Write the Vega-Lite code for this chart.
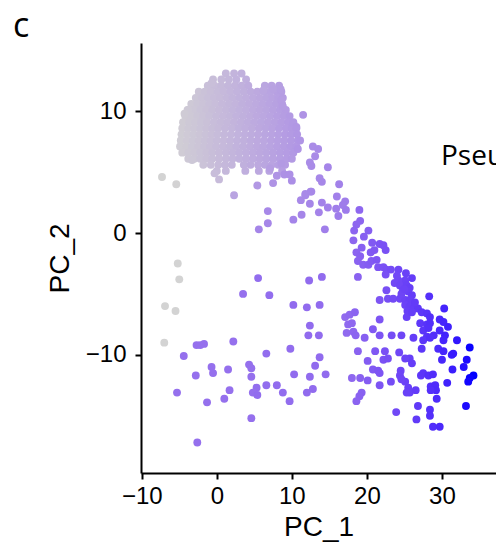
{
"$schema": "https://vega.github.io/schema/vega-lite/v6.json",
"width": 355,
"height": 430,
"autosize": "none",
"padding": {"left": 141, "top": 43, "right": 0, "bottom": 70},
"background": "white",
"config": {"view": {"stroke": null}},
"title": {"text": "c", "anchor": "start", "frame": "group", "font": "Open Sans", "fontSize": 34, "fontWeight": "normal", "color": "black", "baseline": "alphabetic", "dx": -128, "dy": 36, "offset": 8},
"data": {"values": [
{"PC_1":1.2,"PC_2":13.1,"Pseudotime":2.8},{"PC_1":2.3,"PC_2":13.1,"Pseudotime":3.3},{"PC_1":3.3,"PC_2":13.1,"Pseudotime":3.6},
{"PC_1":-0.5,"PC_2":12.6,"Pseudotime":2.2},{"PC_1":0.6,"PC_2":12.6,"Pseudotime":2.6},{"PC_1":1.6,"PC_2":12.6,"Pseudotime":3.0},{"PC_1":2.6,"PC_2":12.6,"Pseudotime":3.4},{"PC_1":3.9,"PC_2":12.6,"Pseudotime":3.8},
{"PC_1":-1.2,"PC_2":12.1,"Pseudotime":2.0},{"PC_1":-0.3,"PC_2":12.1,"Pseudotime":2.3},{"PC_1":0.6,"PC_2":12.1,"Pseudotime":2.6},{"PC_1":1.5,"PC_2":12.1,"Pseudotime":3.0},{"PC_1":2.4,"PC_2":12.1,"Pseudotime":3.3},{"PC_1":3.3,"PC_2":12.1,"Pseudotime":3.6},{"PC_1":4.2,"PC_2":12.1,"Pseudotime":4.0},{"PC_1":6.4,"PC_2":12.1,"Pseudotime":4.8},{"PC_1":7.3,"PC_2":12.1,"Pseudotime":5.1},{"PC_1":8.3,"PC_2":12.1,"Pseudotime":5.5},
{"PC_1":-2.4,"PC_2":11.6,"Pseudotime":1.5},{"PC_1":-1.6,"PC_2":11.6,"Pseudotime":1.8},{"PC_1":-0.8,"PC_2":11.6,"Pseudotime":2.1},{"PC_1":0.1,"PC_2":11.6,"Pseudotime":2.4},{"PC_1":0.9,"PC_2":11.6,"Pseudotime":2.7},{"PC_1":1.8,"PC_2":11.6,"Pseudotime":3.1},{"PC_1":2.7,"PC_2":11.6,"Pseudotime":3.4},{"PC_1":3.6,"PC_2":11.6,"Pseudotime":3.7},{"PC_1":4.5,"PC_2":11.6,"Pseudotime":4.1},{"PC_1":5.4,"PC_2":11.6,"Pseudotime":4.4},{"PC_1":6.3,"PC_2":11.6,"Pseudotime":4.7},{"PC_1":7.1,"PC_2":11.6,"Pseudotime":5.0},{"PC_1":8.0,"PC_2":11.6,"Pseudotime":5.4},{"PC_1":8.6,"PC_2":11.6,"Pseudotime":5.6},
{"PC_1":-2.8,"PC_2":11.1,"Pseudotime":1.4},{"PC_1":-2.0,"PC_2":11.1,"Pseudotime":1.7},{"PC_1":-1.2,"PC_2":11.1,"Pseudotime":2.0},{"PC_1":-0.4,"PC_2":11.1,"Pseudotime":2.3},{"PC_1":0.4,"PC_2":11.1,"Pseudotime":2.5},{"PC_1":1.3,"PC_2":11.1,"Pseudotime":2.9},{"PC_1":2.1,"PC_2":11.1,"Pseudotime":3.2},{"PC_1":3.0,"PC_2":11.1,"Pseudotime":3.5},{"PC_1":3.9,"PC_2":11.1,"Pseudotime":3.8},{"PC_1":4.8,"PC_2":11.1,"Pseudotime":4.2},{"PC_1":5.7,"PC_2":11.1,"Pseudotime":4.5},{"PC_1":6.6,"PC_2":11.1,"Pseudotime":4.8},{"PC_1":7.4,"PC_2":11.1,"Pseudotime":5.1},{"PC_1":8.2,"PC_2":11.1,"Pseudotime":5.4},{"PC_1":8.8,"PC_2":11.1,"Pseudotime":5.7},
{"PC_1":-3.4,"PC_2":10.6,"Pseudotime":1.1},{"PC_1":-2.6,"PC_2":10.6,"Pseudotime":1.4},{"PC_1":-1.8,"PC_2":10.6,"Pseudotime":1.7},{"PC_1":-1.0,"PC_2":10.6,"Pseudotime":2.0},{"PC_1":-0.2,"PC_2":10.6,"Pseudotime":2.3},{"PC_1":0.7,"PC_2":10.6,"Pseudotime":2.7},{"PC_1":1.6,"PC_2":10.6,"Pseudotime":3.0},{"PC_1":2.5,"PC_2":10.6,"Pseudotime":3.3},{"PC_1":3.4,"PC_2":10.6,"Pseudotime":3.7},{"PC_1":4.3,"PC_2":10.6,"Pseudotime":4.0},{"PC_1":5.2,"PC_2":10.6,"Pseudotime":4.3},{"PC_1":6.1,"PC_2":10.6,"Pseudotime":4.7},{"PC_1":7.0,"PC_2":10.6,"Pseudotime":5.0},{"PC_1":7.9,"PC_2":10.6,"Pseudotime":5.3},{"PC_1":8.7,"PC_2":10.6,"Pseudotime":5.6},
{"PC_1":-3.9,"PC_2":10.1,"Pseudotime":0.9},{"PC_1":-3.0,"PC_2":10.1,"Pseudotime":1.3},{"PC_1":-2.2,"PC_2":10.1,"Pseudotime":1.6},{"PC_1":-1.4,"PC_2":10.1,"Pseudotime":1.9},{"PC_1":-0.6,"PC_2":10.1,"Pseudotime":2.2},{"PC_1":0.3,"PC_2":10.1,"Pseudotime":2.5},{"PC_1":1.2,"PC_2":10.1,"Pseudotime":2.8},{"PC_1":2.1,"PC_2":10.1,"Pseudotime":3.2},{"PC_1":3.0,"PC_2":10.1,"Pseudotime":3.5},{"PC_1":3.9,"PC_2":10.1,"Pseudotime":3.8},{"PC_1":4.8,"PC_2":10.1,"Pseudotime":4.2},{"PC_1":5.7,"PC_2":10.1,"Pseudotime":4.5},{"PC_1":6.6,"PC_2":10.1,"Pseudotime":4.8},{"PC_1":7.5,"PC_2":10.1,"Pseudotime":5.2},{"PC_1":8.4,"PC_2":10.1,"Pseudotime":5.5},{"PC_1":9.2,"PC_2":10.1,"Pseudotime":5.8},
{"PC_1":-4.2,"PC_2":9.6,"Pseudotime":0.8},{"PC_1":-3.4,"PC_2":9.6,"Pseudotime":1.1},{"PC_1":-2.6,"PC_2":9.6,"Pseudotime":1.4},{"PC_1":-1.8,"PC_2":9.6,"Pseudotime":1.7},{"PC_1":-1.0,"PC_2":9.6,"Pseudotime":2.0},{"PC_1":-0.1,"PC_2":9.6,"Pseudotime":2.4},{"PC_1":0.8,"PC_2":9.6,"Pseudotime":2.7},{"PC_1":1.7,"PC_2":9.6,"Pseudotime":3.0},{"PC_1":2.6,"PC_2":9.6,"Pseudotime":3.4},{"PC_1":3.5,"PC_2":9.6,"Pseudotime":3.7},{"PC_1":4.4,"PC_2":9.6,"Pseudotime":4.0},{"PC_1":5.3,"PC_2":9.6,"Pseudotime":4.4},{"PC_1":6.2,"PC_2":9.6,"Pseudotime":4.7},{"PC_1":7.1,"PC_2":9.6,"Pseudotime":5.0},{"PC_1":8.0,"PC_2":9.6,"Pseudotime":5.4},{"PC_1":8.9,"PC_2":9.6,"Pseudotime":5.7},{"PC_1":9.7,"PC_2":9.6,"Pseudotime":6.0},
{"PC_1":-4.5,"PC_2":9.1,"Pseudotime":0.7},{"PC_1":-3.7,"PC_2":9.1,"Pseudotime":1.0},{"PC_1":-2.9,"PC_2":9.1,"Pseudotime":1.3},{"PC_1":-2.1,"PC_2":9.1,"Pseudotime":1.6},{"PC_1":-1.3,"PC_2":9.1,"Pseudotime":1.9},{"PC_1":-0.4,"PC_2":9.1,"Pseudotime":2.3},{"PC_1":0.5,"PC_2":9.1,"Pseudotime":2.6},{"PC_1":1.4,"PC_2":9.1,"Pseudotime":2.9},{"PC_1":2.3,"PC_2":9.1,"Pseudotime":3.3},{"PC_1":3.2,"PC_2":9.1,"Pseudotime":3.6},{"PC_1":4.1,"PC_2":9.1,"Pseudotime":3.9},{"PC_1":5.0,"PC_2":9.1,"Pseudotime":4.3},{"PC_1":5.9,"PC_2":9.1,"Pseudotime":4.6},{"PC_1":6.8,"PC_2":9.1,"Pseudotime":4.9},{"PC_1":7.7,"PC_2":9.1,"Pseudotime":5.2},{"PC_1":8.6,"PC_2":9.1,"Pseudotime":5.6},{"PC_1":9.5,"PC_2":9.1,"Pseudotime":5.9},{"PC_1":10.2,"PC_2":9.1,"Pseudotime":6.2},
{"PC_1":-4.6,"PC_2":8.6,"Pseudotime":0.7},{"PC_1":-3.8,"PC_2":8.6,"Pseudotime":1.0},{"PC_1":-3.0,"PC_2":8.6,"Pseudotime":1.3},{"PC_1":-2.2,"PC_2":8.6,"Pseudotime":1.6},{"PC_1":-1.4,"PC_2":8.6,"Pseudotime":1.9},{"PC_1":-0.6,"PC_2":8.6,"Pseudotime":2.2},{"PC_1":0.2,"PC_2":8.6,"Pseudotime":2.5},{"PC_1":1.1,"PC_2":8.6,"Pseudotime":2.8},{"PC_1":2.0,"PC_2":8.6,"Pseudotime":3.1},{"PC_1":2.9,"PC_2":8.6,"Pseudotime":3.5},{"PC_1":3.8,"PC_2":8.6,"Pseudotime":3.8},{"PC_1":4.7,"PC_2":8.6,"Pseudotime":4.1},{"PC_1":5.6,"PC_2":8.6,"Pseudotime":4.5},{"PC_1":6.5,"PC_2":8.6,"Pseudotime":4.8},{"PC_1":7.4,"PC_2":8.6,"Pseudotime":5.1},{"PC_1":8.3,"PC_2":8.6,"Pseudotime":5.5},{"PC_1":9.2,"PC_2":8.6,"Pseudotime":5.8},{"PC_1":10.0,"PC_2":8.6,"Pseudotime":6.1},{"PC_1":10.6,"PC_2":8.6,"Pseudotime":6.3},
{"PC_1":-4.7,"PC_2":8.1,"Pseudotime":0.6},{"PC_1":-3.9,"PC_2":8.1,"Pseudotime":0.9},{"PC_1":-3.1,"PC_2":8.1,"Pseudotime":1.2},{"PC_1":-2.3,"PC_2":8.1,"Pseudotime":1.5},{"PC_1":-1.5,"PC_2":8.1,"Pseudotime":1.8},{"PC_1":-0.7,"PC_2":8.1,"Pseudotime":2.1},{"PC_1":0.1,"PC_2":8.1,"Pseudotime":2.4},{"PC_1":1.0,"PC_2":8.1,"Pseudotime":2.8},{"PC_1":1.9,"PC_2":8.1,"Pseudotime":3.1},{"PC_1":2.8,"PC_2":8.1,"Pseudotime":3.4},{"PC_1":3.7,"PC_2":8.1,"Pseudotime":3.8},{"PC_1":4.6,"PC_2":8.1,"Pseudotime":4.1},{"PC_1":5.5,"PC_2":8.1,"Pseudotime":4.4},{"PC_1":6.4,"PC_2":8.1,"Pseudotime":4.8},{"PC_1":7.3,"PC_2":8.1,"Pseudotime":5.1},{"PC_1":8.2,"PC_2":8.1,"Pseudotime":5.4},{"PC_1":9.1,"PC_2":8.1,"Pseudotime":5.8},{"PC_1":9.9,"PC_2":8.1,"Pseudotime":6.1},{"PC_1":10.7,"PC_2":8.1,"Pseudotime":6.4},
{"PC_1":-4.8,"PC_2":7.6,"Pseudotime":0.6},{"PC_1":-4.0,"PC_2":7.6,"Pseudotime":0.9},{"PC_1":-3.2,"PC_2":7.6,"Pseudotime":1.2},{"PC_1":-2.4,"PC_2":7.6,"Pseudotime":1.5},{"PC_1":-1.6,"PC_2":7.6,"Pseudotime":1.8},{"PC_1":-0.8,"PC_2":7.6,"Pseudotime":2.1},{"PC_1":0.0,"PC_2":7.6,"Pseudotime":2.4},{"PC_1":0.9,"PC_2":7.6,"Pseudotime":2.7},{"PC_1":1.8,"PC_2":7.6,"Pseudotime":3.1},{"PC_1":2.7,"PC_2":7.6,"Pseudotime":3.4},{"PC_1":3.6,"PC_2":7.6,"Pseudotime":3.7},{"PC_1":4.5,"PC_2":7.6,"Pseudotime":4.1},{"PC_1":5.4,"PC_2":7.6,"Pseudotime":4.4},{"PC_1":6.3,"PC_2":7.6,"Pseudotime":4.7},{"PC_1":7.2,"PC_2":7.6,"Pseudotime":5.1},{"PC_1":8.1,"PC_2":7.6,"Pseudotime":5.4},{"PC_1":9.0,"PC_2":7.6,"Pseudotime":5.7},{"PC_1":9.9,"PC_2":7.6,"Pseudotime":6.1},{"PC_1":10.8,"PC_2":7.6,"Pseudotime":6.4},
{"PC_1":-4.9,"PC_2":7.1,"Pseudotime":0.6},{"PC_1":-4.1,"PC_2":7.1,"Pseudotime":0.8},{"PC_1":-3.3,"PC_2":7.1,"Pseudotime":1.2},{"PC_1":-2.5,"PC_2":7.1,"Pseudotime":1.5},{"PC_1":-1.7,"PC_2":7.1,"Pseudotime":1.8},{"PC_1":-0.9,"PC_2":7.1,"Pseudotime":2.1},{"PC_1":-0.1,"PC_2":7.1,"Pseudotime":2.4},{"PC_1":0.8,"PC_2":7.1,"Pseudotime":2.7},{"PC_1":1.7,"PC_2":7.1,"Pseudotime":3.0},{"PC_1":2.6,"PC_2":7.1,"Pseudotime":3.4},{"PC_1":3.5,"PC_2":7.1,"Pseudotime":3.7},{"PC_1":4.4,"PC_2":7.1,"Pseudotime":4.0},{"PC_1":5.3,"PC_2":7.1,"Pseudotime":4.4},{"PC_1":6.2,"PC_2":7.1,"Pseudotime":4.7},{"PC_1":7.1,"PC_2":7.1,"Pseudotime":5.0},{"PC_1":8.0,"PC_2":7.1,"Pseudotime":5.4},{"PC_1":8.9,"PC_2":7.1,"Pseudotime":5.7},{"PC_1":9.8,"PC_2":7.1,"Pseudotime":6.0},{"PC_1":10.6,"PC_2":7.1,"Pseudotime":6.3},
{"PC_1":-4.6,"PC_2":6.6,"Pseudotime":0.7},{"PC_1":-3.8,"PC_2":6.6,"Pseudotime":1.0},{"PC_1":-3.0,"PC_2":6.6,"Pseudotime":1.3},{"PC_1":-2.2,"PC_2":6.6,"Pseudotime":1.6},{"PC_1":-1.4,"PC_2":6.6,"Pseudotime":1.9},{"PC_1":-0.6,"PC_2":6.6,"Pseudotime":2.2},{"PC_1":0.3,"PC_2":6.6,"Pseudotime":2.5},{"PC_1":1.2,"PC_2":6.6,"Pseudotime":2.8},{"PC_1":2.1,"PC_2":6.6,"Pseudotime":3.2},{"PC_1":3.0,"PC_2":6.6,"Pseudotime":3.5},{"PC_1":3.9,"PC_2":6.6,"Pseudotime":3.8},{"PC_1":4.8,"PC_2":6.6,"Pseudotime":4.2},{"PC_1":5.7,"PC_2":6.6,"Pseudotime":4.5},{"PC_1":6.6,"PC_2":6.6,"Pseudotime":4.8},{"PC_1":7.5,"PC_2":6.6,"Pseudotime":5.2},{"PC_1":8.4,"PC_2":6.6,"Pseudotime":5.5},{"PC_1":9.3,"PC_2":6.6,"Pseudotime":5.8},{"PC_1":10.2,"PC_2":6.6,"Pseudotime":6.2},
{"PC_1":-3.8,"PC_2":6.1,"Pseudotime":1.0},{"PC_1":-3.0,"PC_2":6.1,"Pseudotime":1.3},{"PC_1":-2.2,"PC_2":6.1,"Pseudotime":1.6},{"PC_1":-1.4,"PC_2":6.1,"Pseudotime":1.9},{"PC_1":-0.6,"PC_2":6.1,"Pseudotime":2.2},{"PC_1":0.3,"PC_2":6.1,"Pseudotime":2.5},{"PC_1":1.2,"PC_2":6.1,"Pseudotime":2.8},{"PC_1":2.1,"PC_2":6.1,"Pseudotime":3.2},{"PC_1":3.0,"PC_2":6.1,"Pseudotime":3.5},{"PC_1":3.9,"PC_2":6.1,"Pseudotime":3.8},{"PC_1":4.8,"PC_2":6.1,"Pseudotime":4.2},{"PC_1":5.7,"PC_2":6.1,"Pseudotime":4.5},{"PC_1":6.6,"PC_2":6.1,"Pseudotime":4.8},{"PC_1":7.5,"PC_2":6.1,"Pseudotime":5.2},{"PC_1":8.4,"PC_2":6.1,"Pseudotime":5.5},{"PC_1":9.3,"PC_2":6.1,"Pseudotime":5.8},{"PC_1":10.0,"PC_2":6.1,"Pseudotime":6.1},
{"PC_1":-1.8,"PC_2":5.6,"Pseudotime":1.7},{"PC_1":-0.8,"PC_2":5.6,"Pseudotime":2.1},{"PC_1":0.2,"PC_2":5.6,"Pseudotime":2.5},{"PC_1":1.1,"PC_2":5.6,"Pseudotime":2.8},{"PC_1":2.0,"PC_2":5.6,"Pseudotime":3.1},{"PC_1":3.6,"PC_2":5.6,"Pseudotime":3.7},{"PC_1":4.5,"PC_2":5.6,"Pseudotime":4.1},{"PC_1":5.5,"PC_2":5.6,"Pseudotime":4.4},{"PC_1":6.4,"PC_2":5.6,"Pseudotime":4.8},{"PC_1":7.3,"PC_2":5.6,"Pseudotime":5.1},{"PC_1":8.2,"PC_2":5.6,"Pseudotime":5.4},{"PC_1":9.1,"PC_2":5.6,"Pseudotime":5.8},
{"PC_1":0.0,"PC_2":5.1,"Pseudotime":2.4},{"PC_1":1.2,"PC_2":5.1,"Pseudotime":2.8},{"PC_1":3.8,"PC_2":5.1,"Pseudotime":3.8},{"PC_1":5.6,"PC_2":5.1,"Pseudotime":4.5},{"PC_1":7.0,"PC_2":5.1,"Pseudotime":5.0},{"PC_1":8.7,"PC_2":5.1,"Pseudotime":5.6},
{"PC_1":-0.7,"PC_2":12.3,"Pseudotime":2.1},{"PC_1":-3.8,"PC_2":10.1,"Pseudotime":1.0},{"PC_1":-4.3,"PC_2":9.8,"Pseudotime":0.8},{"PC_1":-3.3,"PC_2":6.0,"Pseudotime":1.2},{"PC_1":6.2,"PC_2":11.7,"Pseudotime":4.7},{"PC_1":7.5,"PC_2":11.8,"Pseudotime":5.2},{"PC_1":8.5,"PC_2":11.8,"Pseudotime":5.5},{"PC_1":8.6,"PC_2":10.9,"Pseudotime":5.6},{"PC_1":8.8,"PC_2":10.4,"Pseudotime":5.7},{"PC_1":10.2,"PC_2":9.0,"Pseudotime":6.2},
{"PC_1":-7.3,"PC_2":4.6,"Pseudotime":0},{"PC_1":-5.4,"PC_2":4.0,"Pseudotime":0.1},{"PC_1":-5.2,"PC_2":-2.5,"Pseudotime":0},{"PC_1":-5.0,"PC_2":-3.8,"Pseudotime":0},{"PC_1":-6.9,"PC_2":-6.0,"Pseudotime":0},{"PC_1":-5.5,"PC_2":-6.4,"Pseudotime":0},{"PC_1":-7.0,"PC_2":-9.0,"Pseudotime":0},
{"PC_1":-0.3,"PC_2":4.9,"Pseudotime":2.3},{"PC_1":0.3,"PC_2":4.4,"Pseudotime":2.5},{"PC_1":2.3,"PC_2":3.1,"Pseudotime":5.0},{"PC_1":5.4,"PC_2":3.9,"Pseudotime":6.3},{"PC_1":7.5,"PC_2":4.1,"Pseudotime":6.8},{"PC_1":8.0,"PC_2":4.7,"Pseudotime":6.8},{"PC_1":9.0,"PC_2":4.8,"Pseudotime":7.0},{"PC_1":10.0,"PC_2":4.3,"Pseudotime":7.3},{"PC_1":9.7,"PC_2":4.8,"Pseudotime":7.1},{"PC_1":11.5,"PC_2":9.7,"Pseudotime":6.8},{"PC_1":12.8,"PC_2":7.1,"Pseudotime":7.5},{"PC_1":13.5,"PC_2":6.9,"Pseudotime":7.7},{"PC_1":13.1,"PC_2":6.3,"Pseudotime":7.7},{"PC_1":12.4,"PC_2":5.8,"Pseudotime":7.6},{"PC_1":12.6,"PC_2":5.5,"Pseudotime":7.7},{"PC_1":14.8,"PC_2":5.4,"Pseudotime":8.3},{"PC_1":13.7,"PC_2":4.5,"Pseudotime":8.0},{"PC_1":14.0,"PC_2":4.2,"Pseudotime":8.1},{"PC_1":16.3,"PC_2":4.0,"Pseudotime":8.7},{"PC_1":12.5,"PC_2":3.4,"Pseudotime":8.0},{"PC_1":11.8,"PC_2":3.2,"Pseudotime":7.9},{"PC_1":11.2,"PC_2":2.7,"Pseudotime":7.9},{"PC_1":12.4,"PC_2":2.4,"Pseudotime":8.2},{"PC_1":16.0,"PC_2":3.0,"Pseudotime":8.8},{"PC_1":17.1,"PC_2":2.6,"Pseudotime":9.2},{"PC_1":15.9,"PC_2":2.0,"Pseudotime":9.0},{"PC_1":13.6,"PC_2":1.7,"Pseudotime":8.5},{"PC_1":6.8,"PC_2":1.8,"Pseudotime":8.0},{"PC_1":6.8,"PC_2":0.8,"Pseudotime":8.2},{"PC_1":5.6,"PC_2":0.3,"Pseudotime":8.3},{"PC_1":10.2,"PC_2":1.1,"Pseudotime":8.4},{"PC_1":11.3,"PC_2":1.5,"Pseudotime":8.3},{"PC_1":14.0,"PC_2":2.5,"Pseudotime":8.6},{"PC_1":14.8,"PC_2":2.1,"Pseudotime":8.8},{"PC_1":16.8,"PC_2":2.3,"Pseudotime":9.2},{"PC_1":17.2,"PC_2":1.9,"Pseudotime":9.4},{"PC_1":16.2,"PC_2":1.4,"Pseudotime":9.3},{"PC_1":14.4,"PC_2":0.3,"Pseudotime":9.0},{"PC_1":10.6,"PC_2":8.7,"Pseudotime":6.4},{"PC_1":11.1,"PC_2":7.6,"Pseudotime":6.6},{"PC_1":10.8,"PC_2":6.9,"Pseudotime":6.6},{"PC_1":8.6,"PC_2":5.7,"Pseudotime":6.0},{"PC_1":7.1,"PC_2":5.3,"Pseudotime":5.6},{"PC_1":11.8,"PC_2":3.1,"Pseudotime":7.9},{"PC_1":12.6,"PC_2":3.4,"Pseudotime":8.0},
{"PC_1":5.5,"PC_2":-3.7,"Pseudotime":10.9},{"PC_1":3.5,"PC_2":-5.0,"Pseudotime":10.6},{"PC_1":7.0,"PC_2":-5.1,"Pseudotime":10.9},{"PC_1":12.3,"PC_2":-3.9,"Pseudotime":11.1},{"PC_1":14.0,"PC_2":-3.6,"Pseudotime":11.1},{"PC_1":10.2,"PC_2":-5.9,"Pseudotime":11.1},{"PC_1":12.0,"PC_2":-6.1,"Pseudotime":11.1},{"PC_1":13.7,"PC_2":-5.9,"Pseudotime":11.1},{"PC_1":12.4,"PC_2":-7.6,"Pseudotime":11.1},{"PC_1":12.2,"PC_2":-8.4,"Pseudotime":11.1},{"PC_1":13.6,"PC_2":-8.4,"Pseudotime":11.1},{"PC_1":9.8,"PC_2":-9.5,"Pseudotime":10.9},{"PC_1":13.7,"PC_2":-10.2,"Pseudotime":11.1},{"PC_1":13.1,"PC_2":-10.9,"Pseudotime":11.1},{"PC_1":12.4,"PC_2":-11.8,"Pseudotime":11.1},{"PC_1":14.5,"PC_2":-11.6,"Pseudotime":11.1},{"PC_1":10.3,"PC_2":-11.6,"Pseudotime":11.1},{"PC_1":12.8,"PC_2":-12.8,"Pseudotime":11.1},{"PC_1":12.0,"PC_2":-13.1,"Pseudotime":11.1},{"PC_1":9.7,"PC_2":-13.8,"Pseudotime":10.9},{"PC_1":8.8,"PC_2":-13.1,"Pseudotime":10.9},{"PC_1":8.0,"PC_2":-12.5,"Pseudotime":10.9},{"PC_1":6.6,"PC_2":-12.5,"Pseudotime":10.9},{"PC_1":6.6,"PC_2":-9.9,"Pseudotime":10.9},{"PC_1":4.3,"PC_2":-10.8,"Pseudotime":10.6},{"PC_1":4.6,"PC_2":-11.1,"Pseudotime":10.6},{"PC_1":4.6,"PC_2":-11.8,"Pseudotime":10.6},{"PC_1":5.3,"PC_2":-12.7,"Pseudotime":10.9},{"PC_1":4.8,"PC_2":-13.1,"Pseudotime":10.6},{"PC_1":5.4,"PC_2":-13.3,"Pseudotime":10.9},{"PC_1":2.2,"PC_2":-8.9,"Pseudotime":10.6},{"PC_1":-2.7,"PC_2":-9.2,"Pseudotime":10.6},{"PC_1":-2.2,"PC_2":-9.2,"Pseudotime":10.6},{"PC_1":-1.7,"PC_2":-9.1,"Pseudotime":10.6},{"PC_1":-4.4,"PC_2":-10.1,"Pseudotime":10.6},{"PC_1":-2.8,"PC_2":-11.7,"Pseudotime":10.6},{"PC_1":-0.7,"PC_2":-11.0,"Pseudotime":10.6},{"PC_1":-0.5,"PC_2":-11.5,"Pseudotime":10.6},{"PC_1":1.5,"PC_2":-11.2,"Pseudotime":10.6},{"PC_1":-5.3,"PC_2":-13.1,"Pseudotime":10.6},{"PC_1":-1.3,"PC_2":-13.9,"Pseudotime":10.6},{"PC_1":1.0,"PC_2":-13.6,"Pseudotime":10.6},{"PC_1":1.7,"PC_2":-12.9,"Pseudotime":10.6},{"PC_1":4.6,"PC_2":-15.2,"Pseudotime":10.6},{"PC_1":-2.6,"PC_2":-17.2,"Pseudotime":10.6},
{"PC_1":19.0,"PC_2":1.9,"Pseudotime":11.5},{"PC_1":19.1,"PC_2":1.0,"Pseudotime":11.6},{"PC_1":18.6,"PC_2":0.7,"Pseudotime":11.6},{"PC_1":18.3,"PC_2":0.2,"Pseudotime":11.7},{"PC_1":20.2,"PC_2":0.2,"Pseudotime":12.4},{"PC_1":18.2,"PC_2":-0.6,"Pseudotime":11.6},{"PC_1":20.7,"PC_2":-0.8,"Pseudotime":13.0},{"PC_1":21.7,"PC_2":-0.9,"Pseudotime":13.5},{"PC_1":22.2,"PC_2":-1.0,"Pseudotime":13.8},{"PC_1":22.5,"PC_2":-1.4,"Pseudotime":13.9},{"PC_1":19.3,"PC_2":-1.2,"Pseudotime":12.2},{"PC_1":18.6,"PC_2":-1.6,"Pseudotime":11.9},{"PC_1":20.5,"PC_2":-1.6,"Pseudotime":12.9},{"PC_1":19.1,"PC_2":-1.9,"Pseudotime":12.1},{"PC_1":18.8,"PC_2":-2.3,"Pseudotime":12.0},{"PC_1":19.5,"PC_2":-2.6,"Pseudotime":12.3},{"PC_1":20.2,"PC_2":-2.6,"Pseudotime":12.7},{"PC_1":20.6,"PC_2":-2.3,"Pseudotime":12.9},{"PC_1":21.3,"PC_2":-2.2,"Pseudotime":13.3},{"PC_1":21.5,"PC_2":-2.8,"Pseudotime":13.4},{"PC_1":22.2,"PC_2":-2.8,"Pseudotime":13.8},{"PC_1":22.6,"PC_2":-3.0,"Pseudotime":14.0},{"PC_1":22.5,"PC_2":-3.4,"Pseudotime":13.9},{"PC_1":24.2,"PC_2":-3.0,"Pseudotime":14.8},{"PC_1":18.8,"PC_2":-3.6,"Pseudotime":12.0},{"PC_1":25.2,"PC_2":-3.3,"Pseudotime":15.4},{"PC_1":26.0,"PC_2":-3.7,"Pseudotime":15.8},{"PC_1":25.1,"PC_2":-3.9,"Pseudotime":15.3},{"PC_1":24.2,"PC_2":-3.9,"Pseudotime":14.8},{"PC_1":23.7,"PC_2":-4.1,"Pseudotime":14.6},{"PC_1":24.4,"PC_2":-4.3,"Pseudotime":14.9},{"PC_1":25.3,"PC_2":-4.3,"Pseudotime":15.4},{"PC_1":25.7,"PC_2":-4.5,"Pseudotime":15.6},{"PC_1":24.8,"PC_2":-4.7,"Pseudotime":15.1},{"PC_1":25.5,"PC_2":-4.8,"Pseudotime":15.5},{"PC_1":26.0,"PC_2":-5.1,"Pseudotime":15.8},{"PC_1":22.6,"PC_2":-4.7,"Pseudotime":14.0},{"PC_1":21.7,"PC_2":-5.5,"Pseudotime":13.5},{"PC_1":22.8,"PC_2":-5.4,"Pseudotime":14.1},{"PC_1":23.5,"PC_2":-5.4,"Pseudotime":14.5},{"PC_1":24.4,"PC_2":-5.4,"Pseudotime":14.9},{"PC_1":25.1,"PC_2":-5.5,"Pseudotime":15.3},{"PC_1":25.7,"PC_2":-5.5,"Pseudotime":15.6},{"PC_1":25.1,"PC_2":-5.9,"Pseudotime":15.3},{"PC_1":25.7,"PC_2":-6.0,"Pseudotime":15.6},{"PC_1":26.2,"PC_2":-6.2,"Pseudotime":15.9},{"PC_1":26.8,"PC_2":-6.2,"Pseudotime":16.2},{"PC_1":28.3,"PC_2":-5.2,"Pseudotime":17.0},{"PC_1":30.3,"PC_2":-6.2,"Pseudotime":18.1},
{"PC_1":19.6,"PC_2":-0.3,"Pseudotime":12.4},{"PC_1":21.0,"PC_2":-1.4,"Pseudotime":13.1},{"PC_1":23.2,"PC_2":-3.0,"Pseudotime":14.3},{"PC_1":24.0,"PC_2":-3.5,"Pseudotime":14.7},{"PC_1":24.6,"PC_2":-5.0,"Pseudotime":15.0},{"PC_1":25.0,"PC_2":-4.6,"Pseudotime":15.3},{"PC_1":25.4,"PC_2":-6.4,"Pseudotime":15.5},{"PC_1":26.4,"PC_2":-5.7,"Pseudotime":16.0},
{"PC_1":25.3,"PC_2":-6.9,"Pseudotime":15.4},{"PC_1":26.0,"PC_2":-6.5,"Pseudotime":15.8},{"PC_1":27.3,"PC_2":-6.5,"Pseudotime":16.5},{"PC_1":28.0,"PC_2":-6.6,"Pseudotime":16.8},{"PC_1":28.4,"PC_2":-6.9,"Pseudotime":17.1},{"PC_1":27.1,"PC_2":-7.4,"Pseudotime":16.4},{"PC_1":28.0,"PC_2":-7.5,"Pseudotime":16.8},{"PC_1":28.4,"PC_2":-7.4,"Pseudotime":17.1},{"PC_1":27.5,"PC_2":-8.0,"Pseudotime":16.6},{"PC_1":28.2,"PC_2":-7.8,"Pseudotime":17.0},{"PC_1":28.9,"PC_2":-8.4,"Pseudotime":17.3},{"PC_1":28.0,"PC_2":-8.5,"Pseudotime":16.8},{"PC_1":27.5,"PC_2":-8.8,"Pseudotime":16.6},{"PC_1":28.4,"PC_2":-8.6,"Pseudotime":17.1},{"PC_1":29.7,"PC_2":-7.1,"Pseudotime":17.7},{"PC_1":30.2,"PC_2":-7.3,"Pseudotime":18.0},{"PC_1":30.8,"PC_2":-7.7,"Pseudotime":18.3},{"PC_1":29.7,"PC_2":-8.0,"Pseudotime":17.7},{"PC_1":30.4,"PC_2":-8.4,"Pseudotime":18.1},{"PC_1":30.2,"PC_2":-8.8,"Pseudotime":18.0},{"PC_1":32.0,"PC_2":-8.8,"Pseudotime":19.0},{"PC_1":33.7,"PC_2":-9.4,"Pseudotime":19.9},{"PC_1":33.3,"PC_2":-10.4,"Pseudotime":19.6},{"PC_1":32.9,"PC_2":-11.0,"Pseudotime":19.4},{"PC_1":34.2,"PC_2":-11.7,"Pseudotime":20.0},{"PC_1":33.7,"PC_2":-11.9,"Pseudotime":19.9},{"PC_1":33.5,"PC_2":-12.2,"Pseudotime":19.8},{"PC_1":31.3,"PC_2":-10.0,"Pseudotime":18.6},{"PC_1":31.5,"PC_2":-9.9,"Pseudotime":18.7},{"PC_1":30.0,"PC_2":-10.4,"Pseudotime":17.9},{"PC_1":29.5,"PC_2":-9.5,"Pseudotime":17.6},{"PC_1":30.2,"PC_2":-9.7,"Pseudotime":18.0},{"PC_1":31.4,"PC_2":-11.2,"Pseudotime":18.6},{"PC_1":27.3,"PC_2":-9.5,"Pseudotime":16.5},{"PC_1":24.3,"PC_2":-9.8,"Pseudotime":14.9},{"PC_1":22.4,"PC_2":-9.7,"Pseudotime":13.9},{"PC_1":22.2,"PC_2":-10.4,"Pseudotime":13.8},{"PC_1":22.8,"PC_2":-10.3,"Pseudotime":14.1},{"PC_1":21.1,"PC_2":-9.7,"Pseudotime":13.2},{"PC_1":20.1,"PC_2":-10.5,"Pseudotime":12.7},{"PC_1":18.8,"PC_2":-9.7,"Pseudotime":12.0},{"PC_1":20.8,"PC_2":-11.2,"Pseudotime":13.0},{"PC_1":21.5,"PC_2":-11.3,"Pseudotime":13.4},{"PC_1":21.7,"PC_2":-11.5,"Pseudotime":13.5},{"PC_1":24.5,"PC_2":-11.3,"Pseudotime":15.0},{"PC_1":24.4,"PC_2":-11.7,"Pseudotime":14.9},{"PC_1":25.1,"PC_2":-12.2,"Pseudotime":15.3},{"PC_1":24.6,"PC_2":-12.0,"Pseudotime":15.0},{"PC_1":25.7,"PC_2":-10.3,"Pseudotime":15.6},{"PC_1":26.0,"PC_2":-10.7,"Pseudotime":15.8},{"PC_1":25.1,"PC_2":-10.3,"Pseudotime":15.3},{"PC_1":27.2,"PC_2":-11.7,"Pseudotime":16.4},{"PC_1":27.5,"PC_2":-11.5,"Pseudotime":16.6},{"PC_1":28.2,"PC_2":-11.7,"Pseudotime":17.0},{"PC_1":28.8,"PC_2":-11.6,"Pseudotime":17.3},{"PC_1":28.5,"PC_2":-12.6,"Pseudotime":17.1},{"PC_1":29.1,"PC_2":-12.5,"Pseudotime":17.4},{"PC_1":29.2,"PC_2":-12.9,"Pseudotime":17.5},{"PC_1":28.5,"PC_2":-12.9,"Pseudotime":17.1},{"PC_1":30.7,"PC_2":-12.3,"Pseudotime":18.3},{"PC_1":25.5,"PC_2":-12.7,"Pseudotime":15.5},{"PC_1":25.7,"PC_2":-13.1,"Pseudotime":15.6},{"PC_1":25.3,"PC_2":-13.1,"Pseudotime":15.4},{"PC_1":26.5,"PC_2":-12.9,"Pseudotime":16.0},{"PC_1":23.2,"PC_2":-12.2,"Pseudotime":14.3},{"PC_1":21.7,"PC_2":-12.5,"Pseudotime":13.5},{"PC_1":20.1,"PC_2":-12.1,"Pseudotime":12.7},{"PC_1":19.1,"PC_2":-11.9,"Pseudotime":12.1},{"PC_1":18.0,"PC_2":-11.9,"Pseudotime":11.5},{"PC_1":19.3,"PC_2":-13.1,"Pseudotime":12.2},{"PC_1":19.0,"PC_2":-13.4,"Pseudotime":12.1},{"PC_1":18.6,"PC_2":-13.8,"Pseudotime":11.9},{"PC_1":29.3,"PC_2":-13.6,"Pseudotime":17.5},{"PC_1":26.8,"PC_2":-14.2,"Pseudotime":16.2},{"PC_1":23.9,"PC_2":-14.7,"Pseudotime":14.7},{"PC_1":28.4,"PC_2":-14.5,"Pseudotime":17.1},{"PC_1":28.4,"PC_2":-15.0,"Pseudotime":17.1},{"PC_1":26.6,"PC_2":-15.3,"Pseudotime":16.1},{"PC_1":28.8,"PC_2":-15.9,"Pseudotime":17.3},{"PC_1":29.7,"PC_2":-15.9,"Pseudotime":17.7},{"PC_1":33.2,"PC_2":-14.2,"Pseudotime":19.6},{"PC_1":17.1,"PC_2":-6.9,"Pseudotime":11.1},{"PC_1":17.7,"PC_2":-6.7,"Pseudotime":11.4},{"PC_1":18.4,"PC_2":-6.5,"Pseudotime":11.8},{"PC_1":17.5,"PC_2":-7.5,"Pseudotime":11.3},{"PC_1":18.0,"PC_2":-7.4,"Pseudotime":11.5},{"PC_1":17.3,"PC_2":-8.2,"Pseudotime":11.2},{"PC_1":18.2,"PC_2":-8.1,"Pseudotime":11.6},{"PC_1":18.5,"PC_2":-8.4,"Pseudotime":11.8},{"PC_1":21.7,"PC_2":-7.1,"Pseudotime":13.5},{"PC_1":20.8,"PC_2":-7.9,"Pseudotime":13.0},{"PC_1":21.7,"PC_2":-8.4,"Pseudotime":13.5},{"PC_1":23.3,"PC_2":-8.4,"Pseudotime":14.3},{"PC_1":24.6,"PC_2":-8.4,"Pseudotime":15.0},{"PC_1":26.2,"PC_2":-8.6,"Pseudotime":15.9},{"PC_1":19.7,"PC_2":-8.6,"Pseudotime":12.4}
]},
"mark": {"type": "circle", "size": 62, "opacity": 1},
"encoding": {
"x": {"field": "PC_1", "type": "quantitative", "scale": {"domain": [-10.1, 37.2], "nice": false, "zero": false},
"axis": {"title": "PC_1", "values": [-10, 0, 10, 20, 30], "grid": false, "domainColor": "black", "domainWidth": 2, "tickColor": "black", "tickWidth": 2, "tickSize": 6, "labelFont": "Liberation Sans", "labelFontSize": 24, "labelColor": "black", "labelPadding": 5, "labelFlush": false, "labelOverlap": false, "titleFont": "Liberation Sans", "titleFontSize": 28, "titleFontWeight": "normal", "titleColor": "black", "titlePadding": 5}},
"y": {"field": "PC_2", "type": "quantitative", "scale": {"domain": [-19.7, 15.6], "nice": false, "zero": false},
"axis": {"title": "PC_2", "values": [-10, 0, 10], "grid": false, "domainColor": "black", "domainWidth": 2, "tickColor": "black", "tickWidth": 2, "tickSize": 6, "labelFont": "Liberation Sans", "labelFontSize": 24, "labelColor": "black", "labelPadding": 9, "labelFlush": false, "labelOverlap": false, "titleFont": "Liberation Sans", "titleFontSize": 28, "titleFontWeight": "normal", "titleColor": "black", "titlePadding": 11}},
"color": {"field": "Pseudotime", "type": "quantitative", "scale": {"domain": [0, 20], "range": ["#d3d3d3", "#0000ff"], "interpolate": "lab"},
"legend": {"orient": "none", "legendX": 300, "legendY": 106, "direction": "horizontal", "titleOrient": "left", "title": "Pseudotime", "titleFont": "Open Sans", "titleFontSize": 28, "titleFontWeight": "normal", "titleColor": "black", "gradientLength": 120, "labelFont": "Open Sans", "labelFontSize": 16}}
}
}
